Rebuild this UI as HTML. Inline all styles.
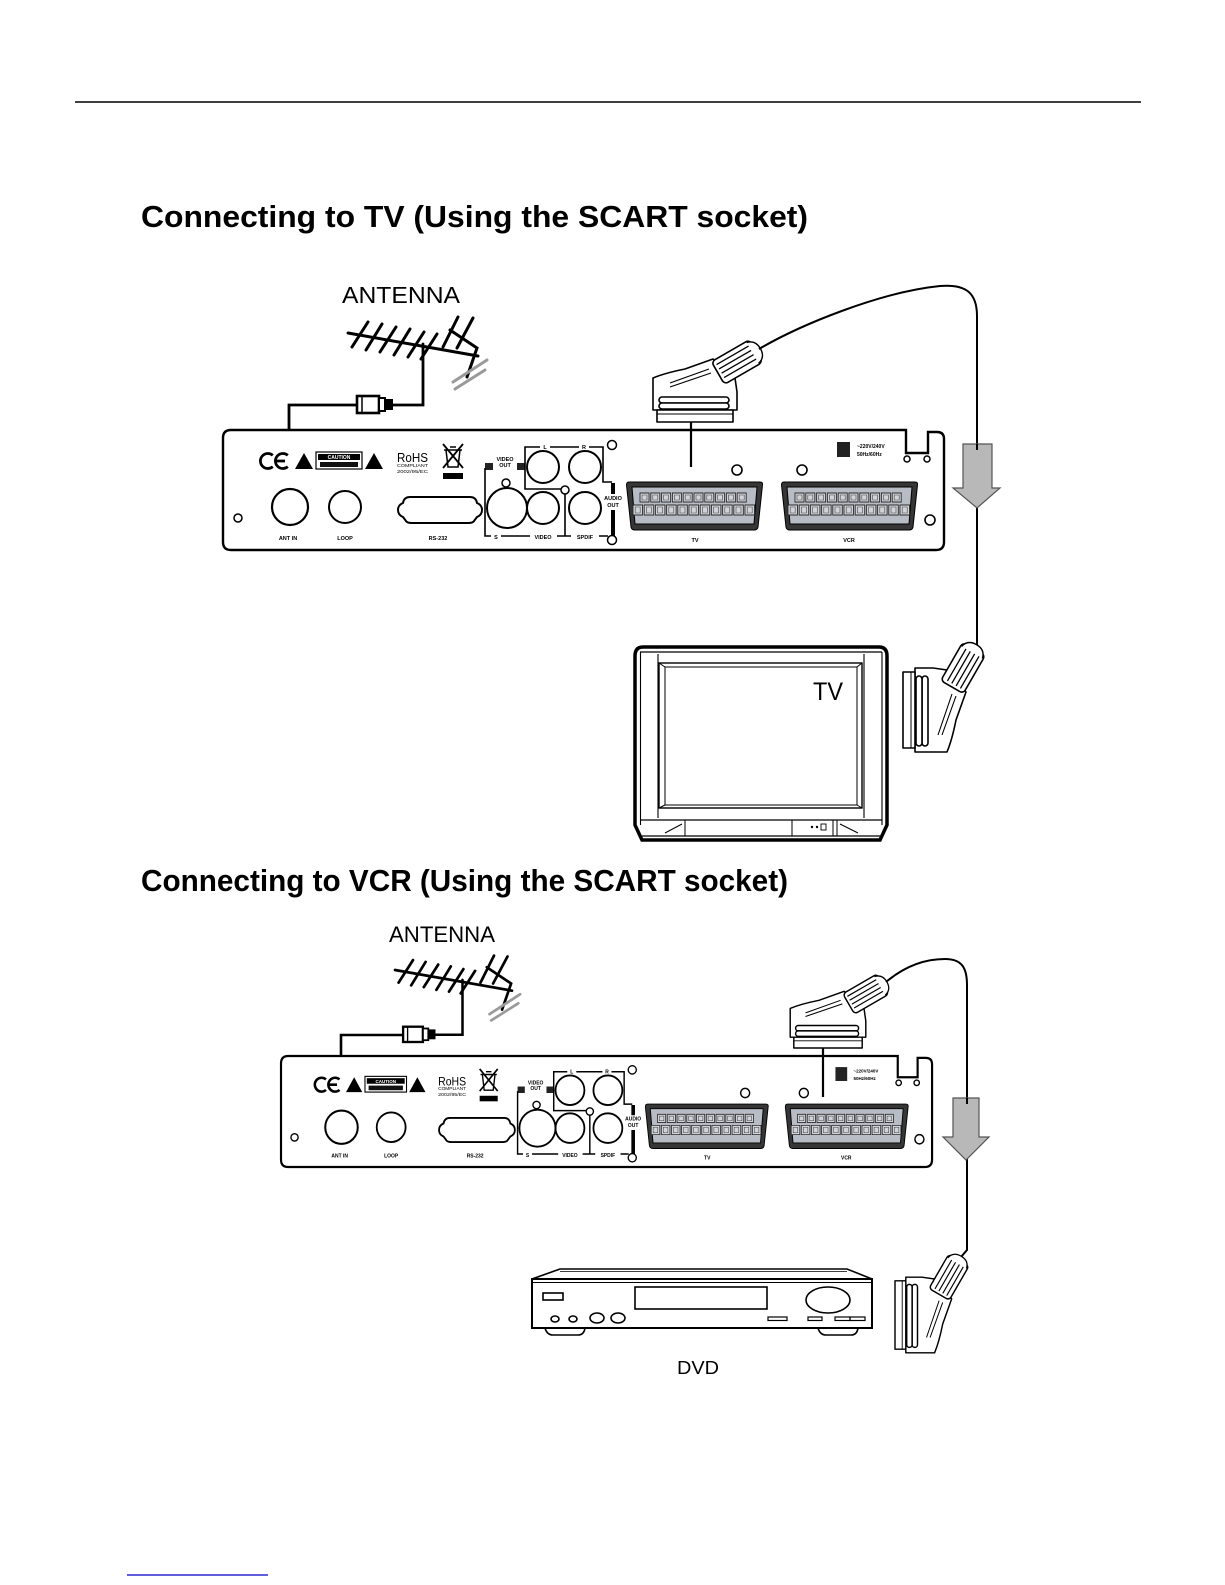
<!DOCTYPE html>
<html><head><meta charset="utf-8"><style>
html,body{margin:0;padding:0;background:#fff;}
svg{display:block;}
text{font-family:"Liberation Sans",Arial,sans-serif;}
</style></head><body>
<svg width="1225" height="1585" viewBox="0 0 1225 1585" xmlns="http://www.w3.org/2000/svg" xmlns:xlink="http://www.w3.org/1999/xlink">
<defs>
 <g id="sock">
  <path d="M2,0 H133 Q136,0 135.5,3 L131,45 Q130.5,48 127,48 H8 Q4.5,48 4,45 L-0.5,3 Q-0.5,0 2,0 Z" fill="#363636"/>
  <path d="M5,5 H130 L127,42 H8 Z" fill="#b8bcc4"/>
  <path d="M13,11h9v9h-9z M23.8,11h9v9h-9z M34.6,11h9v9h-9z M45.4,11h9v9h-9z M56.2,11h9v9h-9z M67,11h9v9h-9z M77.8,11h9v9h-9z M88.6,11h9v9h-9z M99.4,11h9v9h-9z M110.2,11h9v9h-9z M6,23h9.5v10h-9.5z M17.2,23h9.5v10h-9.5z M28.4,23h9.5v10h-9.5z M39.6,23h9.5v10h-9.5z M50.8,23h9.5v10h-9.5z M62,23h9.5v10h-9.5z M73.2,23h9.5v10h-9.5z M84.4,23h9.5v10h-9.5z M95.6,23h9.5v10h-9.5z M106.8,23h9.5v10h-9.5z M118,23h9.5v10h-9.5z" fill="#d0d3d9" stroke="#2a2a2a" stroke-width="0.9"/>
  <path d="M15,13h5v5h-5z M25.8,13h5v5h-5z M36.6,13h5v5h-5z M47.4,13h5v5h-5z M58.2,13h5v5h-5z M69,13h5v5h-5z M79.8,13h5v5h-5z M90.6,13h5v5h-5z M101.4,13h5v5h-5z M112.2,13h5v5h-5z M8.2,25h5v6h-5z M19.4,25h5v6h-5z M30.6,25h5v6h-5z M41.8,25h5v6h-5z M53,25h5v6h-5z M64.2,25h5v6h-5z M75.4,25h5v6h-5z M86.6,25h5v6h-5z M97.8,25h5v6h-5z M109,25h5v6h-5z M120.2,25h5v6h-5z" fill="none" stroke="#444" stroke-width="0.6"/>
 </g>
 <g id="plug" fill="#fff" stroke="#000" stroke-width="1.6" stroke-linejoin="round">
  <path d="M-42,-12 V-44 Q-30,-49 -10,-53 L18,-63 L40,-44 L42,-30 V-12 Z"/>
  <path d="M-25,-39 L14,-53 M-25,-35 L16,-49" stroke-width="1.1"/>
  <rect x="-36" y="-25" width="70" height="6" rx="3"/>
  <rect x="-36" y="-19" width="70" height="6" rx="3"/>
  <rect x="-38" y="-12" width="76" height="12"/>
  <line x1="-38" y1="-8" x2="38" y2="-8" stroke-width="1"/>
  <g transform="translate(42,-60) rotate(-30)">
   <rect x="-22" y="-13" width="44" height="26" rx="4"/>
   <path d="M-19,-8 H19 M-19,-3 H19 M-19,2 H19 M-19,7 H19" stroke-width="1.3"/>
   <path d="M18,-12 Q27,-10 27,0 Q27,10 18,12" stroke-width="1.4"/>
  </g>
 </g>
 <g id="ant" stroke="#000" fill="none" stroke-linecap="round">
  <line x1="348" y1="333" x2="478" y2="356" stroke-width="3"/>
  <path d="M368,322 L352,347 M382,324 L366,350 M396,327 L380,352 M410,329 L394,355 M424,332 L408,357 M437,334 L421,359" stroke-width="3"/>
  <path d="M458,317 L443,347 M473,318 L457,348 M450,330 L477,348 L467,377" stroke-width="3"/>
  <path d="M453,382 L487,360 M455,389 L485,370" stroke="#9a9a9a" stroke-width="3"/>
  <path d="M423,344 V405 H393" stroke-width="2.8"/>
  <rect x="357" y="396" width="22" height="17" fill="#fff" stroke-width="2.6"/>
  <line x1="362" y1="396" x2="362" y2="413" stroke-width="1.5"/>
  <rect x="379" y="398" width="6" height="13" fill="#fff" stroke-width="2"/>
  <rect x="385" y="399" width="8" height="11" fill="#000" stroke="none"/>
 </g>
</defs>

<rect x="0" y="0" width="1225" height="1585" fill="#fff"/>
<line x1="75" y1="102" x2="1141" y2="102" stroke="#000" stroke-width="1.5"/>

<text x="141" y="227" font-size="31" font-weight="bold" fill="#000" style="font-family:'Liberation Sans Narrow','Liberation Sans',Arial,sans-serif" textLength="667" lengthAdjust="spacingAndGlyphs">Connecting to TV (Using the SCART socket)</text>

<!-- ===== Section 1 ===== -->
<text x="342" y="303" font-size="23" fill="#000" textLength="118" lengthAdjust="spacingAndGlyphs">ANTENNA</text>
<use href="#ant" xlink:href="#ant"/>
<path d="M357,405 H289 V500" stroke="#000" stroke-width="2.8" fill="none"/>

<g id="panel" stroke="#000" fill="none">
 <path d="M231,430 H906 V453 H928 V432 H937 Q944,432 944,439 V542 Q944,550 936,550 H231 Q223,550 223,542 V438 Q223,430 231,430 Z" fill="#fff" stroke-width="2.4"/>
 <circle cx="907" cy="459" r="3" stroke-width="1.5"/>
 <circle cx="927" cy="459" r="3" stroke-width="1.5"/>
 <circle cx="238" cy="518" r="4" stroke-width="1.5"/>
 <path d="M272.8,455.3 A7.5,7.5 0 1 0 272.8,466.7 M287.8,455.3 A7.5,7.5 0 1 0 287.8,466.7 M276,461 H285" stroke-width="2.8"/>
 <path d="M295,469 L304,453 L313,469 Z M365,469 L374,453 L383,469 Z" fill="#000" stroke="none"/>
 <rect x="316" y="452" width="46" height="17" fill="#fff" stroke-width="1.2"/>
 <rect x="318" y="454" width="42" height="6" fill="#000" stroke="none"/>
 <text x="339" y="459" font-size="5" font-weight="bold" fill="#fff" stroke="none" text-anchor="middle">CAUTION</text>
 <rect x="320" y="462" width="38" height="5" fill="#111" stroke="none"/>
 <text x="397" y="462" font-size="13" fill="#000" stroke="none" font-family="Liberation Serif, serif" textLength="31" lengthAdjust="spacingAndGlyphs">RoHS</text>
 <text x="397" y="467" font-size="4.5" fill="#000" stroke="none" textLength="31" lengthAdjust="spacingAndGlyphs">COMPLIANT</text>
 <text x="397" y="473" font-size="4.5" fill="#000" stroke="none" textLength="31" lengthAdjust="spacingAndGlyphs">2002/95/EC</text>
 <path d="M446,450 H460 L458,467 H448 Z M444,450 H462 M450,447 H456" stroke-width="1.5"/>
 <path d="M443,444 L463,468 M463,444 L443,468" stroke-width="1.8"/>
 <rect x="443" y="473" width="20" height="6" fill="#000" stroke="none"/>

 <circle cx="290" cy="507" r="18" fill="#fff" stroke-width="2.2"/>
 <circle cx="345" cy="507" r="16" stroke-width="2"/>
 <path d="M410,497 H470 Q476,497 477,503 Q482,505 482,510 Q482,515 477,517 L474,521 Q473,523 468,523 H412 Q407,523 406,521 L403,517 Q398,515 398,510 Q398,505 403,503 Q404,497 410,497 Z" stroke-width="2"/>
 <g fill="#000" stroke="none" font-size="5.5" font-weight="bold" text-anchor="middle">
  <text x="288" y="540">ANT IN</text>
  <text x="345" y="540">LOOP</text>
  <text x="438" y="540">RS-232</text>
  <text x="695" y="542">TV</text>
  <text x="849" y="542">VCR</text>
  <text x="505" y="461">VIDEO</text>
  <text x="505" y="467">OUT</text>
  <text x="613" y="500">AUDIO</text>
  <text x="613" y="507">OUT</text>
  <text x="545" y="449">L</text>
  <text x="584" y="449">R</text>
  <text x="496" y="539">S</text>
  <text x="543" y="539">VIDEO</text>
  <text x="585" y="539">SPDIF</text>
 </g>
 <rect x="485" y="463" width="8" height="7" fill="#222" stroke="none"/>
 <rect x="517" y="463" width="8" height="7" fill="#222" stroke="none"/>
 <path d="M485,468 V536 H491 M501,536 H530 M557,536 H571 M599,536 H608" stroke-width="1.6"/>
 <path d="M525,468 V489 H561 M525,468 V447 H540 M550,447 H579 M589,447 H603 V482 H612" stroke-width="1.6"/>
 <path d="M565,494 V536" stroke-width="1.6"/>
 <path d="M613,483 V494 M613,510 V536" stroke-width="4"/>
 <circle cx="507" cy="508" r="20" stroke-width="2"/>
 <circle cx="506" cy="483" r="4" stroke-width="1.5"/>
 <circle cx="543" cy="508" r="16" stroke-width="2"/>
 <circle cx="585" cy="508" r="16" stroke-width="2"/>
 <circle cx="543" cy="467" r="16" stroke-width="2"/>
 <circle cx="585" cy="467" r="16" stroke-width="2"/>
 <circle cx="565" cy="490" r="4" fill="#fff" stroke-width="1.5"/>
 <circle cx="612" cy="445" r="4.5" stroke-width="1.5"/>
 <circle cx="612" cy="540" r="4.5" fill="#fff" stroke-width="1.5"/>
 <circle cx="737" cy="470" r="5" stroke-width="1.6"/>
 <circle cx="802" cy="470" r="5" stroke-width="1.6"/>
 <circle cx="930" cy="520" r="5" stroke-width="1.6"/>
 <use href="#sock" xlink:href="#sock" transform="translate(627,482)"/>
 <use href="#sock" xlink:href="#sock" transform="translate(782,482)"/>
 <rect x="837" y="442" width="13" height="15" fill="#222" stroke="none"/>
 <text x="857" y="448" font-size="5" font-weight="bold" fill="#000" stroke="none">~220V/240V</text>
 <text x="857" y="456" font-size="5" font-weight="bold" fill="#000" stroke="none">50Hz/60Hz</text>
</g>

<!-- scart plug 1 + cable -->
<line x1="691" y1="422" x2="691" y2="467" stroke="#000" stroke-width="2.2"/>
<use href="#plug" xlink:href="#plug" transform="translate(695,422)"/>
<path d="M759,349 C800,325 880,292 940,286 C965,284 977,292 977,316 V646" stroke="#000" stroke-width="2" fill="none"/>
<path d="M963,444 H992 V488 H1000 L977,508 L953,488 H963 Z" fill="#b8b8b8" stroke="#555" stroke-width="1.2"/>
<line x1="977" y1="444" x2="977" y2="450" stroke="#000" stroke-width="2"/>

<!-- TV -->
<g stroke="#000" fill="none">
 <path d="M643,647 H879 Q887,647 887,656 V825 L880,840 H642 L635,825 V656 Q635,647 643,647 Z" stroke-width="3.5" fill="#fff"/>
 <line x1="640" y1="652" x2="882" y2="652" stroke-width="1.2"/>
 <path d="M640.5,652 V825 M658,654 V818 M864,654 V818 M882,652 V825" stroke-width="1.1"/>
 <rect x="659" y="663" width="203" height="145" stroke-width="1.4"/>
 <rect x="665" y="667" width="192" height="138" stroke-width="1"/>
 <path d="M659,663 L665,667 M862,663 L857,667 M659,808 L665,805 M862,808 L857,805" stroke-width="1"/>
 <line x1="640" y1="820" x2="882" y2="820" stroke-width="1.2"/>
 <line x1="642" y1="836" x2="880" y2="836" stroke-width="1.2"/>
 <path d="M685,820 V836 M792,820 V836 M833,820 V836 M837,820 V836" stroke-width="1"/>
 <path d="M665,833 L682,824 M840,824 L858,833" stroke-width="1"/>
 <circle cx="812" cy="827" r="1.2" fill="#000" stroke="none"/>
 <circle cx="817" cy="827" r="1.2" fill="#000" stroke="none"/>
 <rect x="821" y="824" width="5" height="6" stroke-width="0.9"/>
</g>
<text x="813" y="700" font-size="25" fill="#000" textLength="30" lengthAdjust="spacingAndGlyphs">TV</text>
<use href="#plug" xlink:href="#plug" transform="matrix(0,-1,-1,0,903,710)"/>

<!-- ===== Section 2 ===== -->
<text x="141" y="891" font-size="31" font-weight="bold" fill="#000" style="font-family:'Liberation Sans Narrow','Liberation Sans',Arial,sans-serif" textLength="647" lengthAdjust="spacingAndGlyphs">Connecting to VCR (Using the SCART socket)</text>

<text x="389" y="942" font-size="22" fill="#000" textLength="106" lengthAdjust="spacingAndGlyphs">ANTENNA</text>
<use href="#ant" xlink:href="#ant" transform="translate(395,970) scale(0.9) translate(-348,-333)"/>
<path d="M403,1035 H341 V1125" stroke="#000" stroke-width="2.6" fill="none"/>

<use href="#panel" xlink:href="#panel" transform="translate(281,1056) scale(0.903,0.925) translate(-223,-430)"/>
<line x1="823" y1="1048" x2="823" y2="1097" stroke="#000" stroke-width="2.2"/>
<use href="#plug" xlink:href="#plug" transform="translate(828,1048) scale(0.9)"/>
<path d="M886,982 C905,966 925,959 945,959 C962,959 967,968 967,985 V1250 L961,1257" stroke="#000" stroke-width="2" fill="none"/>
<path d="M953,1098 H979 V1137 H989 L966,1160 L943,1137 H953 Z" fill="#b8b8b8" stroke="#555" stroke-width="1.2"/>
<line x1="967" y1="1098" x2="967" y2="1104" stroke="#000" stroke-width="2"/>
<use href="#plug" xlink:href="#plug" transform="matrix(0,-0.9,-0.9,0,895,1315)"/>

<!-- DVD -->
<g stroke="#000" fill="none" stroke-width="1.6">
 <path d="M532,1279 L560,1269 H847 L872,1279" fill="#fff"/>
 <line x1="560" y1="1271.5" x2="847" y2="1271.5" stroke-width="0.8"/>
 <rect x="532" y="1279" width="340" height="49" stroke-width="2" fill="#fff"/>
 <line x1="532" y1="1282.5" x2="872" y2="1282.5" stroke-width="1"/>
 <rect x="543" y="1293" width="20" height="7"/>
 <rect x="635" y="1287" width="132" height="22"/>
 <ellipse cx="828" cy="1300" rx="22" ry="13"/>
 <ellipse cx="555" cy="1319" rx="4" ry="3"/>
 <ellipse cx="573" cy="1319" rx="4" ry="3"/>
 <ellipse cx="597" cy="1318" rx="7" ry="5"/>
 <ellipse cx="618" cy="1318" rx="7" ry="5"/>
 <rect x="768" y="1317" width="19" height="3.5" stroke-width="1.2"/>
 <rect x="808" y="1317" width="14" height="3.5" stroke-width="1.2"/>
 <rect x="835" y="1317" width="15" height="3.5" stroke-width="1.2"/>
 <rect x="850" y="1317" width="15" height="3.5" stroke-width="1.2"/>
 <path d="M545,1328 Q547,1335 553,1335 H578 Q584,1335 585,1328 M818,1328 Q820,1335 826,1335 H851 Q857,1335 858,1328" stroke-width="1.6"/>
</g>
<text x="677" y="1374" font-size="18" fill="#000" textLength="42" lengthAdjust="spacingAndGlyphs">DVD</text>

<line x1="127" y1="1575" x2="268" y2="1575" stroke="#0000cc" stroke-width="1.3"/>
</svg>
</body></html>
